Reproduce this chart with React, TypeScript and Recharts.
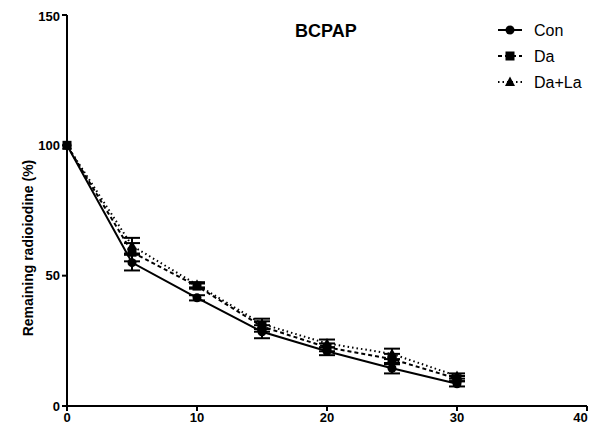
import { LineChart, Line, XAxis, YAxis, ErrorBar } from "recharts";

const TIME = [0, 5, 10, 15, 20, 25, 30];
const CON = [100, 55, 41.5, 28.5, 21, 14.5, 8.5];
const CON_ERR = [0, 3, 1, 2.5, 1.5, 2, 1];
const DA = [100, 59, 46, 30.5, 22.5, 18, 10.5];
const DA_ERR = [0, 3.5, 1, 2, 1.5, 2, 1];
const DA_LA = [100, 61.5, 46.5, 31.5, 24, 20, 11.5];
const DA_LA_ERR = [0, 3, 1, 2, 1.5, 2, 1];
const X_TICKS = [0, 10, 20, 30, 40];
const Y_TICKS = [0, 50, 100, 150];

const data = TIME.map((t, i) => ({
  t,
  con: CON[i],
  conErr: CON_ERR[i],
  da: DA[i],
  daErr: DA_ERR[i],
  daLa: DA_LA[i],
  daLaErr: DA_LA_ERR[i],
}));

const FONT = "'Liberation Sans', Arial, sans-serif";

type Shape = "circle" | "square" | "triangle";

function Marker({ shape, cx, cy }: { shape: Shape; cx: number; cy: number }) {
  if (shape === "circle") return <circle cx={cx} cy={cy} r={4.5} fill="#000" />;
  if (shape === "square") return <rect x={cx - 4.5} y={cy - 4.5} width={9} height={9} fill="#000" />;
  return <polygon points={`${cx},${cy - 5.5} ${cx + 5},${cy + 4} ${cx - 5},${cy + 4}`} fill="#000" />;
}

const makeDot = (shape: Shape) => (props: any) => {
  const { cx, cy, index } = props;
  if (cx == null || cy == null) return <g key={index} />;
  return (
    <g key={`${shape}-${index}`}>
      <Marker shape={shape} cx={cx} cy={cy} />
    </g>
  );
};

const LEGEND = [
  { label: "Con", shape: "circle" as Shape, dash: undefined as string | undefined },
  { label: "Da", shape: "square" as Shape, dash: "4 3" },
  { label: "Da+La", shape: "triangle" as Shape, dash: "1.5 3" },
];

export default function App() {
  return (
    <div style={{ width: 595, height: 437, padding: 8, boxSizing: "border-box", overflow: "hidden" }}>
      {/* body margin moved onto the wrapper so the "40" tick can reach the right edge */}
      <style>{`html, body { margin: 0; } .recharts-surface { overflow: visible !important; }`}</style>
      <div style={{ position: "relative", width: 587, height: 421, fontFamily: FONT }}>
        <LineChart width={579} height={421} data={data} margin={{ top: 7, right: 0, bottom: 0, left: 0 }}>
          <XAxis
            dataKey="t"
            type="number"
            domain={[0, 40]}
            ticks={X_TICKS}
            axisLine={{ stroke: "#000", strokeWidth: 2 }}
            tickLine={{ stroke: "#000", strokeWidth: 2 }}
            tickSize={5}
            height={23}
            tick={{ fill: "#000", fontSize: 13, fontWeight: 700, fontFamily: FONT }}
          />
          <YAxis
            type="number"
            domain={[0, 150]}
            ticks={Y_TICKS}
            width={59}
            axisLine={{ stroke: "#000", strokeWidth: 2 }}
            tickLine={{ stroke: "#000", strokeWidth: 2 }}
            tickSize={5}
            tick={{ fill: "#000", fontSize: 13, fontWeight: 700, fontFamily: FONT }}
          />
          <Line
            dataKey="daLa"
            stroke="#000"
            strokeWidth={2}
            strokeDasharray="1.5 3"
            dot={makeDot("triangle")}
            activeDot={false}
            isAnimationActive={false}
          >
            <ErrorBar dataKey="daLaErr" width={8} stroke="#000" strokeWidth={2} />
          </Line>
          <Line
            dataKey="da"
            stroke="#000"
            strokeWidth={2}
            strokeDasharray="4 3"
            dot={makeDot("square")}
            activeDot={false}
            isAnimationActive={false}
          >
            <ErrorBar dataKey="daErr" width={8} stroke="#000" strokeWidth={2} />
          </Line>
          <Line
            dataKey="con"
            stroke="#000"
            strokeWidth={2}
            dot={makeDot("circle")}
            activeDot={false}
            isAnimationActive={false}
          >
            <ErrorBar dataKey="conErr" width={8} stroke="#000" strokeWidth={2} />
          </Line>
        </LineChart>
        <svg style={{ position: "absolute", left: 0, top: 0, pointerEvents: "none" }} width={40} height={421}>
          <text
            x={0}
            y={0}
            transform="translate(20 240) rotate(-90)"
            textAnchor="middle"
            dominantBaseline="central"
            fontSize={14}
            fontWeight={700}
            fontFamily={FONT}
            fill="#000"
          >
            Remaining radioiodine (%)
          </text>
        </svg>
        <div
          style={{
            position: "absolute",
            left: 287,
            top: 13,
            fontSize: 18,
            lineHeight: "20px",
            fontWeight: 700,
            color: "#000",
          }}
        >
          BCPAP
        </div>
        <svg style={{ position: "absolute", left: 480, top: 8 }} width={107} height={80}>
          {LEGEND.map((item, i) => {
            const cy = 14 + i * 26;
            return (
              <g key={item.label}>
                <line x1={10} x2={34} y1={cy} y2={cy} stroke="#000" strokeWidth={2} strokeDasharray={item.dash} />
                <Marker shape={item.shape} cx={22} cy={cy} />
                <text x={46} y={cy} dominantBaseline="central" fontSize={16} fontFamily={FONT} fill="#000">
                  {item.label}
                </text>
              </g>
            );
          })}
        </svg>
      </div>
    </div>
  );
}
